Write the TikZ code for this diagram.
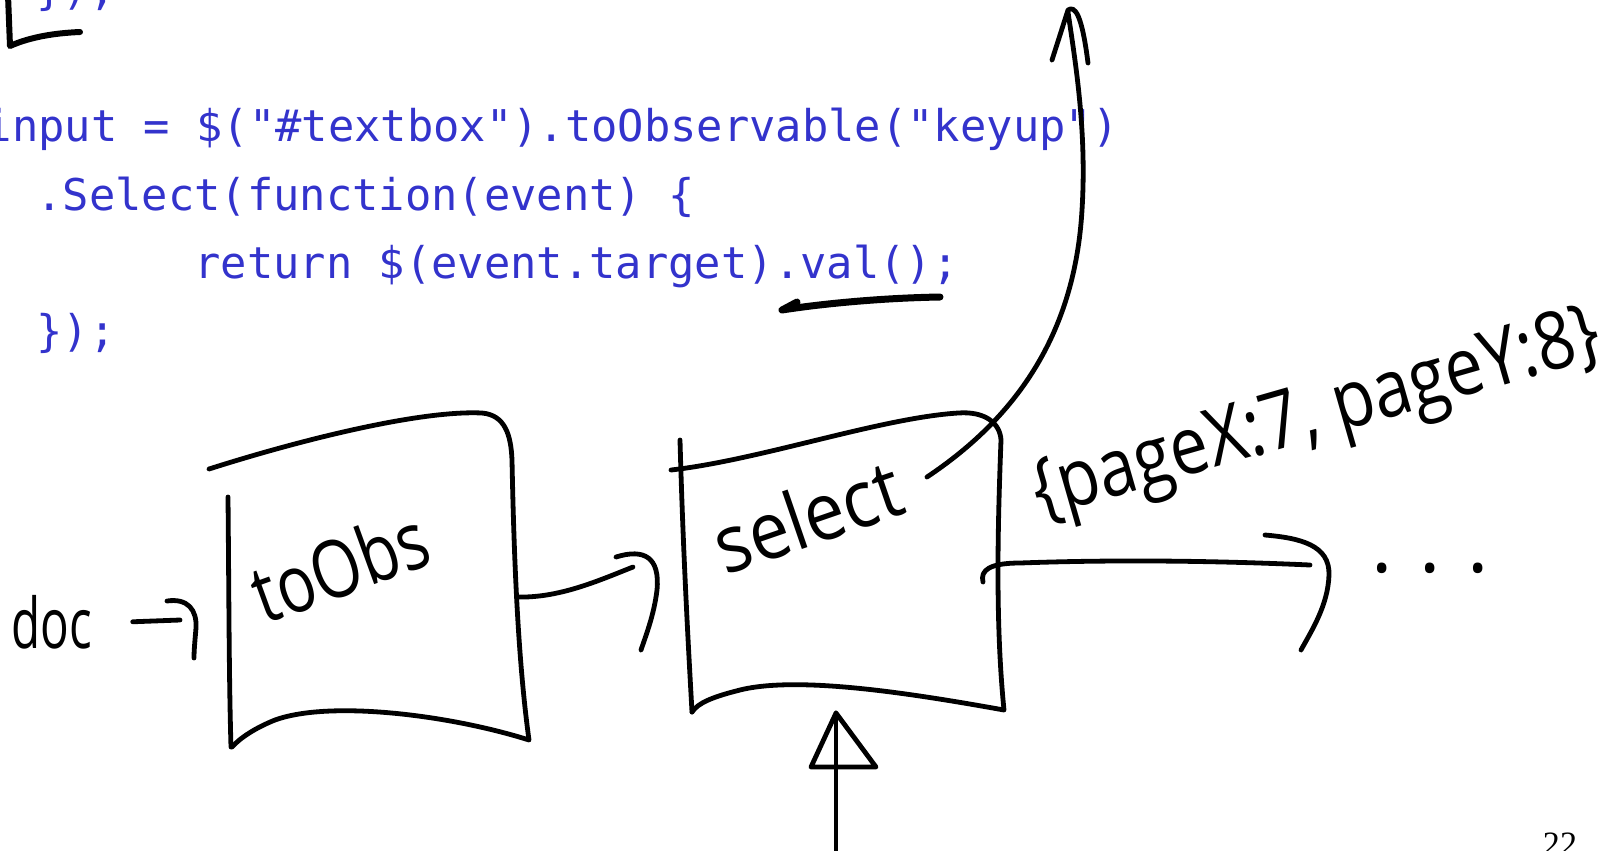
\documentclass[tikz,border=0pt]{standalone}
\usepackage{fontspec}
\newfontfamily\codefont{DejaVu Sans Mono}
\newfontfamily\handfont{Open Sans}
\newfontfamily\numfont{Liberation Serif}
\definecolor{codeblue}{RGB}{51,51,204}
\tikzset{
	hand/.style={line width=0.48mm, line cap=round, line join=round},
	codeline/.style={anchor=base west, inner sep=0pt, text=codeblue, font=\codefont\fontsize{12.45pt}{15pt}\selectfont},
	handtext/.style={anchor=base, inner sep=0pt, font=\handfont\fontsize{22.8pt}{26pt}\selectfont},
}
\begin{document}
\begin{tikzpicture}[x=0.1mm, y=-0.1mm]
	\useasboundingbox (0,0) rectangle (1600,850);
	\clip (0,0) rectangle (1600,850);
	
	% Code
	\node (code0) [codeline] at (35.7,4.5) {\});};
	\node (code1) [codeline] at (-15,141) {input = \$("\#textbox").toObservable("keyup")};
	\node (code2) [codeline] at (35.7,210) {.Select(function(event) \{};
	\node (code3) [codeline] at (193.8,278) {return \$(event.target).val();};
	\node (code4) [codeline] at (35.7,346) {\});};
	
	% Klammer oben links
	\draw[hand, line width=0.6mm] (8,-5) -- (10,46) .. controls (30,37) and (55,33) .. (80,32);
	
	% Unterstrich .val()
	\coordinate (valR) at (940,297);
	\coordinate (valL) at (782,310);
	\draw[hand, line width=0.7mm] (valR) .. controls (880,298) and (820,304) .. (valL) -- ++(15,-8);
	
	% doc
	\node (doc) [handtext, xscale=0.68, font=\handfont\fontsize{19.9pt}{23pt}\selectfont] at (52,648) {doc};
	
	% toObs-Block
	\draw[hand] (209,469) .. controls (300,440) and (420,410) .. (482,413) .. controls (505,415) and (511,435) .. (512,460) .. controls (514,560) and (518,660) .. (529,740) .. controls (450,715) and (330,700) .. (275,720) .. controls (255,728) and (240,738) .. (232,747);
	\draw[hand] (228,497) .. controls (229,600) and (229,680) .. (231,747);
	\node (obs) [handtext, rotate=20, xscale=0.8] at (350,594) {toObs};
	
	% doc -> toObs
	\coordinate (obsin) at (180,620);
	\draw[hand] ([xshift=4mm]doc.east) -- (obsin);
	\draw[hand] (167,601) .. controls (188,598) and (197,610) .. (196,628) .. controls (195,640) and (194,650) .. (194,658);
	
	% toObs -> select
	\coordinate (obsout) at (518,597);
	\coordinate (selin) at (633,567);
	\draw[hand] (obsout) .. controls (560,598) and (600,580) .. (selin);
	\draw[hand] (616,557) .. controls (645,548) and (660,558) .. (657,590) .. controls (654,615) and (646,635) .. (641,650);
	
	% select-Block
	\draw[hand] (671,470) .. controls (760,460) and (880,418) .. (958,413) .. controls (985,411) and (1000,423) .. (1001,440) .. controls (998,520) and (995,620) .. (1004,710) .. controls (920,695) and (800,675) .. (740,690) .. controls (712,697) and (698,703) .. (692,712);
	\draw[hand] (680,440) .. controls (683,550) and (688,640) .. (692,712);
	\node (sel) [handtext, rotate=19, xscale=0.9] at (817,544) {select};
	
	% select -> Ausgang
	\coordinate (selout) at (983,582);
	\coordinate (selend) at (1310,565);
	\draw[hand] (selout) .. controls (980,570) and (990,563) .. (1020,563) .. controls (1100,560) and (1200,560) .. (selend);
	\draw[hand] (1265,535) .. controls (1300,538) and (1330,545) .. (1329,575) .. controls (1328,605) and (1312,630) .. (1301,650);
	\node (event) [handtext, anchor=base west, rotate=16, xscale=0.85] at (1040,518) {\{pageX:7, pageY:8\}};
	\node (dots) [handtext] at (1430,572) {.\hspace{2.7mm}.\hspace{2.7mm}.};
	
	% Eingang von unten
	\coordinate (selfoot) at (836,713);
	\coordinate (bottomin) at (836,860);
	\draw[hand] (bottomin) -- (selfoot);
	\draw[hand] (selfoot) -- ++(-25,54) -- ++(65,0) -- cycle;
	
	% Pfeil nach oben
	\coordinate (selcorner) at (927,477);
	\coordinate (top) at (1068,12);
	\draw[hand] (selcorner) .. controls (1020,415) and (1075,330) .. (1082,210) .. controls (1087,130) and (1075,60) .. (top);
	\draw[hand] (1052,60) -- (1068,10) .. controls (1075,5) and (1082,15) .. (1088,63);
	
	% Seitenzahl
	\node (pagenum) [anchor=base, inner sep=0pt, font=\numfont\fontsize{9.7pt}{11pt}\selectfont] at (1560,855) {22};
	
\end{tikzpicture}
\end{document}
